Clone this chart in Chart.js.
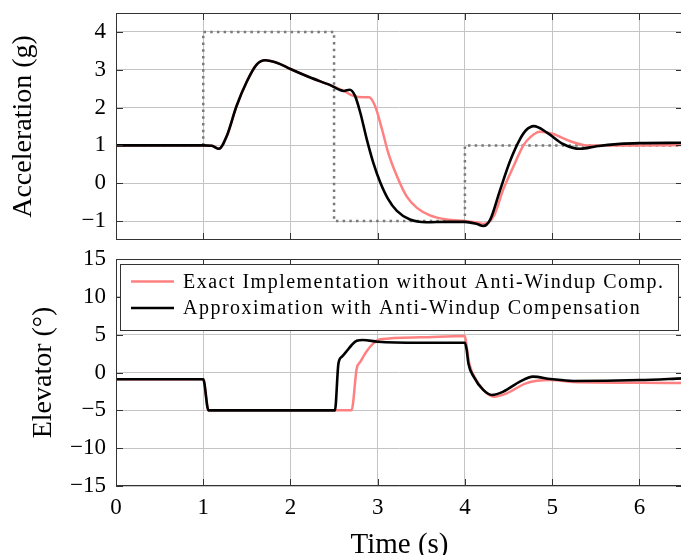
<!DOCTYPE html>
<html>
<head>
<meta charset="utf-8">
<script src="https://cdn.jsdelivr.net/npm/chart.js@4.4.1/dist/chart.umd.min.js"></script>
<style>
    html, body { margin: 0; padding: 0; background: #fff; overflow: hidden; }
    #wrap { position: relative; width: 681px; height: 555px; overflow: hidden; }
    #wrap canvas { position: absolute; left: 0; top: 0; }
</style>
</head>
<body>
<div id="wrap">
    <canvas id="accChart" width="684" height="555" style="width:684px;height:555px"></canvas>
    <canvas id="elevChart" width="684" height="555" style="width:684px;height:555px"></canvas>
</div>
<script>
// Tick labels
const timeTicks = [0, 1, 2, 3, 4, 5, 6];
const accTicks = [-1, 0, 1, 2, 3, 4];
const elevTicks = [-15, -10, -5, 0, 5, 10, 15];

// Legend labels
const labelExact = 'Exact Implementation without Anti-Windup Comp.';
const labelAW = 'Approximation with Anti-Windup Compensation';

// Acceleration command (dotted)
const accRefT = [0, 1, 1, 2.5, 2.5, 4, 4, 6.5];
const accRef = [1, 1, 4, 4, -1, -1, 1, 1];

// Acceleration, exact implementation (red)
const accExactT = [0, 1.0, 1.1, 1.18, 1.27, 1.38, 1.50, 1.61, 1.71, 1.85, 2.0, 2.22, 2.45, 2.61, 2.72, 2.84, 2.90, 2.97, 3.05, 3.12, 3.22, 3.33, 3.45, 3.60, 3.79, 4.0, 4.14, 4.21, 4.33, 4.44, 4.56, 4.67, 4.75, 4.86, 5.01, 5.21, 5.40, 5.71, 6.0, 6.5];
const accExact = [1, 1, 0.99, 0.91, 1.25, 2.03, 2.69, 3.13, 3.25, 3.18, 3.02, 2.80, 2.60, 2.44, 2.31, 2.27, 2.27, 2.04, 1.42, 0.81, 0.19, -0.34, -0.65, -0.85, -0.96, -1.0, -1.04, -1.08, -0.87, -0.16, 0.46, 1.0, 1.22, 1.36, 1.30, 1.11, 1.0, 1.0, 1.0, 1.01];

// Acceleration, anti-windup approximation (black)
const accAWT = [0, 1.0, 1.1, 1.18, 1.27, 1.38, 1.50, 1.61, 1.71, 1.85, 2.0, 2.22, 2.45, 2.61, 2.68, 2.74, 2.80, 2.875, 2.95, 3.03, 3.12, 3.22, 3.37, 3.56, 3.79, 4.0, 4.14, 4.21, 4.29, 4.40, 4.52, 4.63, 4.70, 4.79, 4.94, 5.13, 5.32, 5.51, 5.78, 6.0, 6.5];
const accAW = [1, 1, 0.99, 0.91, 1.25, 2.03, 2.69, 3.13, 3.25, 3.18, 3.02, 2.80, 2.60, 2.44, 2.47, 2.31, 1.87, 1.16, 0.54, 0.02, -0.42, -0.73, -0.96, -1.03, -1.02, -1.02, -1.08, -1.13, -0.96, -0.2, 0.6, 1.16, 1.4, 1.51, 1.34, 1.03, 0.91, 0.98, 1.04, 1.06, 1.07];

// Elevator, exact implementation (red)
const elevExactT = [0, 1.0, 1.06, 2.70, 2.76, 2.80, 2.87, 2.95, 3.03, 3.49, 4.0, 4.02, 4.05, 4.13, 4.23, 4.33, 4.48, 4.70, 4.98, 5.24, 6.0, 6.5];
const elevExact = [-0.9, -0.9, -5, -5, 0.55, 1.4, 2.75, 3.85, 4.38, 4.65, 4.82, 3.4, 1.2, -1.0, -2.53, -3.2, -2.75, -1.43, -1.0, -1.25, -1.35, -1.4];

// Elevator, anti-windup approximation (black)
const elevAWT = [0, 1.0, 1.06, 2.51, 2.55, 2.59, 2.64, 2.70, 2.76, 2.83, 3.0, 3.49, 4.0, 4.02, 4.04, 4.10, 4.21, 4.31, 4.44, 4.63, 4.78, 4.98, 5.24, 6.0, 6.5];
const elevAW = [-0.9, -0.9, -5, -5, 1.2, 2.1, 2.75, 3.6, 4.2, 4.3, 4.07, 3.94, 3.94, 3.0, 1.2, -0.55, -2.3, -2.97, -2.53, -1.2, -0.55, -0.85, -1.12, -1.0, -0.77];

const FONT = "'Liberation Serif', 'Times New Roman', serif";
const RED = '#ff8080';
const GRID = '#c4c4c4';
const FRAME = '#333333';

function pts(ts, ys) {
    return ts.map((t, i) => ({ x: t, y: ys[i] }));
}

function minusFmt(v) {
    return v < 0 ? '\u2212' + Math.abs(v) : String(v);
}

function setTicks(list) {
    return scale => { scale.ticks = list.map(v => ({ value: v })); };
}

// frame, inward tick marks and (optionally) the boxed legend
const framePlugin = {
    id: 'frameBox',
    afterDatasetsDraw(chart, args, opts) {
        const { ctx, chartArea: a, scales: { x, y } } = chart;
        ctx.save();
        ctx.strokeStyle = FRAME;
        ctx.lineWidth = 1;
        ctx.beginPath();
        x.ticks.forEach(t => {
            const px = Math.round(x.getPixelForValue(t.value)) + 0.5;
            ctx.moveTo(px, a.top); ctx.lineTo(px, a.top + 7);
            ctx.moveTo(px, a.bottom); ctx.lineTo(px, a.bottom - 7);
        });
        y.ticks.forEach(t => {
            const py = Math.round(y.getPixelForValue(t.value)) + 0.5;
            ctx.moveTo(a.left, py); ctx.lineTo(a.left + 7, py);
            ctx.moveTo(a.right, py); ctx.lineTo(a.right - 7, py);
        });
        ctx.stroke();
        ctx.strokeRect(Math.round(a.left) + 0.5, Math.round(a.top) + 0.5,
            Math.round(a.right - a.left) - 1, Math.round(a.bottom - a.top) - 1);

        if (opts.legend) {
            const x0 = a.left + 4, y0 = a.top + 5, x1 = a.right - 5, y1 = a.top + 71;
            ctx.fillStyle = '#fff';
            ctx.fillRect(x0, y0, x1 - x0, y1 - y0);
            ctx.strokeStyle = FRAME;
            ctx.strokeRect(Math.round(x0) + 0.5, Math.round(y0) + 0.5, Math.round(x1 - x0), Math.round(y1 - y0));
            const items = chart.data.datasets.filter(d => d.label).sort((p, q) => p.legendRow - q.legendRow);
            ctx.font = '20px ' + FONT;
            ctx.textBaseline = 'middle';
            ctx.textAlign = 'left';
            // widen the serif text a little, like the wider original face
            const first = items[0].label;
            const spread = (opts.textWidth - ctx.measureText(first).width) / (first.length - 1);
            if (spread > 0 && 'letterSpacing' in ctx) ctx.letterSpacing = spread.toFixed(2) + 'px';
            items.forEach((d, i) => {
                const ly = y0 + 17.5 + i * 26.5;
                ctx.strokeStyle = d.borderColor;
                ctx.lineWidth = d.borderWidth;
                ctx.beginPath();
                ctx.moveTo(x0 + 11, ly);
                ctx.lineTo(x0 + 54, ly);
                ctx.stroke();
                ctx.fillStyle = '#000';
                ctx.fillText(d.label, x0 + 63, ly + 1);
            });
        }
        ctx.restore();
    }
};

function xScale(showLabels) {
    return {
        type: 'linear',
        min: 0,
        max: 6.5,
        afterBuildTicks: setTicks(timeTicks),
        afterFit: s => {
            s.height = showLabels ? 69 : 0;
            s.paddingLeft = 0; s.paddingRight = 0;
        },
        grid: { color: GRID, lineWidth: 1, drawTicks: false },
        border: { display: false },
        ticks: {
            display: showLabels,
            color: '#000',
            padding: 8,
            font: { family: FONT, size: 23 }
        },
        title: {
            display: showLabels,
            text: 'Time (s)',
            color: '#000',
            padding: { top: 0, bottom: -2 },
            font: { family: FONT, size: 29, lineHeight: 0.8 }
        }
    };
}

function yScale(min, max, list, title, titlePad) {
    return {
        min: min,
        max: max,
        afterBuildTicks: setTicks(list),
        afterFit: s => {
            s.width = 116;
            s.paddingTop = 0; s.paddingBottom = 0;
        },
        grid: { color: GRID, lineWidth: 1, drawTicks: false },
        border: { display: false },
        ticks: {
            color: '#000',
            padding: 10,
            font: { family: FONT, size: 23 },
            callback: v => minusFmt(v)
        },
        title: {
            display: true,
            text: title,
            color: '#000',
            padding: { top: titlePad, bottom: 0 },
            font: { family: FONT, size: 28, lineHeight: 1 }
        }
    };
}

const baseLine = {
    pointRadius: 0,
    fill: false,
    cubicInterpolationMode: 'monotone'
};

new Chart(document.getElementById('accChart'), {
    type: 'line',
    data: {
        datasets: [
            Object.assign({}, baseLine, { data: pts(accAWT, accAW), borderColor: '#000', borderWidth: 2.6, order: 0 }),
            Object.assign({}, baseLine, { data: pts(accExactT, accExact), borderColor: RED, borderWidth: 2.5, order: 1 }),
            { data: pts(accRefT, accRef), borderColor: '#7a7a7a', borderWidth: 2.5, borderDash: [2.5, 4.2], pointRadius: 0, tension: 0, fill: false, order: 2 }
        ]
    },
    options: {
        responsive: false,
        animation: false,
        devicePixelRatio: 1,
        layout: { padding: { top: 13, bottom: 315, left: 0, right: 1 } },
        plugins: { legend: { display: false }, tooltip: { enabled: false }, frameBox: { legend: false } },
        scales: {
            x: xScale(false),
            y: yScale(-1.5, 4.5, accTicks, 'Acceleration (g)', 10)
        }
    },
    plugins: [framePlugin]
});

new Chart(document.getElementById('elevChart'), {
    type: 'line',
    data: {
        datasets: [
            Object.assign({}, baseLine, { label: labelAW, legendRow: 1, data: pts(elevAWT, elevAW), borderColor: '#000', borderWidth: 2.6, order: 0 }),
            Object.assign({}, baseLine, { label: labelExact, legendRow: 0, data: pts(elevExactT, elevExact), borderColor: RED, borderWidth: 2.5, order: 1 })
        ]
    },
    options: {
        responsive: false,
        animation: false,
        devicePixelRatio: 1,
        layout: { padding: { top: 259, bottom: 0, left: 0, right: 1 } },
        plugins: { legend: { display: false }, tooltip: { enabled: false }, frameBox: { legend: true, textWidth: 480 } },
        scales: {
            x: xScale(true),
            y: yScale(-15, 15, elevTicks, 'Elevator (\u00b0)', 30)
        }
    },
    plugins: [framePlugin]
});
</script>
</body>
</html>
